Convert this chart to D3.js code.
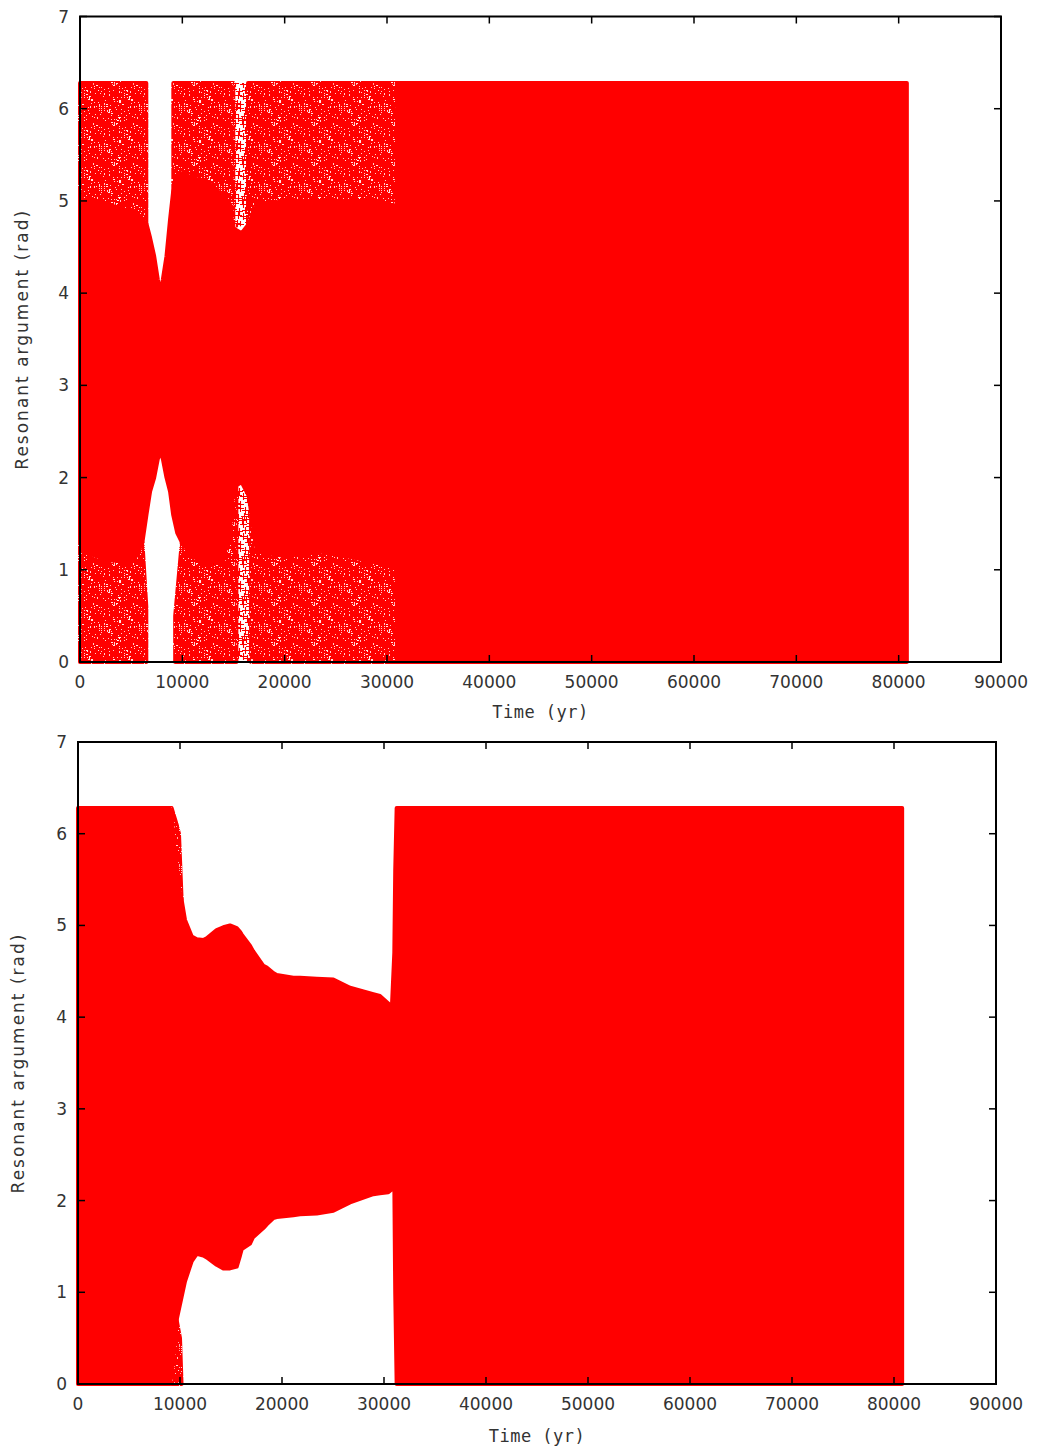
<!DOCTYPE html>
<html>
<head>
<meta charset="utf-8">
<script src="https://cdn.jsdelivr.net/npm/d3@7"></script>
<style>
  body { margin: 0; background: #fff; }
  svg { display: block; }
</style>
</head>
<body>
<svg id="fig" width="1038" height="1447"></svg>
<script>
// Axis ticks shared by both panels
const xTicks = [0, 10000, 20000, 30000, 40000, 50000, 60000, 70000, 80000, 90000];
const yTicks = [0, 1, 2, 3, 4, 5, 6, 7];
const xTitle = "Time (yr)";
const yTitle = "Resonant argument (rad)";

// Upper panel: envelope of the resonant argument, rows are [time, low, high]
// (null rows mark times with no points in that part of the cloud)
// dense core of the point cloud
const coreA = [
  [0, 1.35, 5.1], [300, 1.2, 5.0], [1500, 1.15, 5.0], [3000, 1.1, 4.95],
  [4500, 1.1, 4.9], [5500, 1.15, 4.85], [6100, 1.3, 4.8], [6500, 1.6, 4.75],
  [6850, 1.85, 4.6], [7250, 2.0, 4.4], [7600, 2.2, 4.15], [7850, 2.29, 4.0],
  [8100, 2.2, 4.15], [8450, 2.0, 4.4], [8800, 1.85, 4.8], [9100, 1.6, 5.1],
  [9500, 1.4, 5.25], [9950, 1.3, 5.3], [11000, 1.15, 5.25], [12500, 1.05, 5.2],
  [14000, 1.1, 5.05], [14700, 1.5, 4.85], [15000, 1.9, 4.7], [15800, 1.95, 4.65],
  [16500, 1.8, 4.75], [17000, 1.4, 4.9], [17300, 1.2, 4.95], [20000, 1.15, 5.0],
  [24000, 1.2, 5.0], [28000, 1.1, 5.0], [30500, 1.05, 4.95], [30950, 1.05, 4.95],
  [31000, 0, 6.28], [80800, 0, 6.28]
];
// scattered points above the core
const scatterTopA = [
  [0, 5.1, 6.28], [300, 5.0, 6.28], [1500, 5.0, 6.28], [3000, 4.95, 6.28],
  [4500, 4.9, 6.28], [5500, 4.85, 6.28], [6100, 4.8, 6.28], [6480, 4.75, 6.28],
  [6500, null, null], [9100, null, null],
  [9120, 5.1, 6.28], [9500, 5.25, 6.28], [9950, 5.3, 6.28], [11000, 5.25, 6.28],
  [12500, 5.2, 6.28], [14000, 5.05, 6.28], [14700, 4.85, 6.28], [14980, 4.7, 6.28],
  [15000, null, null], [16400, null, null],
  [16420, 4.75, 6.28], [17000, 4.9, 6.28], [17300, 4.95, 6.28], [20000, 5.0, 6.28],
  [24000, 5.0, 6.28], [28000, 5.0, 6.28], [30500, 4.95, 6.28], [30950, 4.95, 6.28]
];
// scattered points below the core
const scatterBottomA = [
  [0, 0, 1.35], [300, 0, 1.2], [1500, 0, 1.15], [3000, 0, 1.1],
  [4500, 0, 1.1], [5500, 0, 1.15], [6100, 0, 1.3], [6480, 0, 0.6],
  [6500, null, null], [9280, null, null],
  [9300, 0, 0.5], [9950, 0, 1.3], [11000, 0, 1.15], [12500, 0, 1.05],
  [14000, 0, 1.1], [14700, 0, 1.5], [15000, 0, 1.9], [15280, 0, 1.93],
  [15300, null, null], [16700, null, null],
  [16720, 0, 1.75], [17000, 0, 1.4], [17300, 0, 1.2], [20000, 0, 1.15],
  [24000, 0, 1.2], [28000, 0, 1.1], [30500, 0, 1.05], [30950, 0, 1.05]
];
// thinly populated streaks inside the cloud
const thinTopA = [[15000, 4.7, 6.28], [16400, 4.75, 6.28]];
const thinBottomA = [[15300, 0, 1.93], [16700, 0, 1.8]];

// Lower panel: same layout of [time, low, high] rows
const coreB = [
  [0, 0, 6.28], [9000, 0, 6.28], [9180, 0.1, 6.19], [9350, 0.3, 5.95],
  [9670, 0.7, 5.53], [10160, 0.95, 5.28], [10490, 1.12, 5.06], [11150, 1.34, 4.88],
  [11640, 1.42, 4.85], [12290, 1.4, 4.84], [12620, 1.38, 4.86], [13600, 1.3, 4.95],
  [14250, 1.26, 4.98], [14900, 1.26, 5.0], [15560, 1.28, 4.97], [15880, 1.4, 4.93],
  [16050, 1.47, 4.9], [16860, 1.53, 4.78], [17160, 1.6, 4.72], [18170, 1.7, 4.56],
  [18500, 1.74, 4.54], [19150, 1.81, 4.48], [19480, 1.82, 4.46], [21110, 1.84, 4.43],
  [21760, 1.85, 4.43], [23400, 1.86, 4.42], [25030, 1.89, 4.41], [26670, 1.98, 4.32],
  [28950, 2.07, 4.25], [29600, 2.08, 4.23], [30420, 2.09, 4.15], [30750, 2.12, 4.05],
  [31010, 2.2, 4.7], [31100, 1.0, 5.6], [31240, 0, 6.28], [80800, 0, 6.28]
];
const scatterTopB = [
  [8800, 6.28, 6.28], [9000, 6.2, 6.28], [9180, 6.19, 6.28], [9670, 5.53, 6.1],
  [9900, 5.4, 6.0], [10160, 5.28, 5.28]
];
const scatterBottomB = [
  [9180, 0, 0.1], [9350, 0, 0.3], [9670, 0, 0.7], [10000, 0, 0.5], [10150, 0, 0]
];

const RED = "#ff0000";
const svg = d3.select("#fig");
const defs = svg.append("defs");

// Textures of "+" markers for the sparsely populated parts of the cloud.
// Marker centres follow a Halton sequence inside a repeating tile.
function halton(i, b) {
  let f = 1, r = 0;
  while (i > 0) { f /= b; r += f * (i % b); i = Math.floor(i / b); }
  return r;
}
function plusTexture(id, tile, count, start, width) {
  const arm = 3.5;
  let d = "";
  for (let i = start; i < start + count; i++) {
    const cx = Math.floor(halton(i, 2) * tile) + 0.5;
    const cy = Math.floor(halton(i, 3) * tile) + 0.5;
    for (const ox of [-tile, 0, tile]) for (const oy of [-tile, 0, tile]) {
      const px = cx + ox, py = cy + oy;
      if (px < -arm || px > tile + arm || py < -arm || py > tile + arm) continue;
      d += `M${px - arm},${py}h${2 * arm}M${px},${py - arm}v${2 * arm}`;
    }
  }
  defs.append("pattern")
    .attr("id", id)
    .attr("patternUnits", "userSpaceOnUse")
    .attr("width", tile).attr("height", tile)
    .append("path").attr("d", d)
    .attr("stroke", RED).attr("stroke-width", width).attr("fill", "none");
}
plusTexture("plusCloud", 40, 195, 7, 1.2);
plusTexture("plusThin", 40, 55, 401, 1.1);

function drawPanel(box, core, bands) {
  const x = d3.scaleLinear().domain([0, 90000]).range([box.left, box.right]);
  const y = d3.scaleLinear().domain([0, 7]).range([box.bottom, box.top]);
  const g = svg.append("g");

  const band = d3.area()
    .defined(r => r[1] !== null && r[2] !== null)
    .x(r => x(r[0]))
    .y0(r => y(r[1]))
    .y1(r => y(r[2]));

  // thinly populated streaks, then the sparse point clouds
  bands.thin.forEach(rows => {
    g.append("path").datum(rows).attr("d", band).attr("fill", "url(#plusThin)");
  });
  bands.sparse.forEach(rows => {
    g.append("path").datum(rows).attr("d", band)
      .attr("fill", "url(#plusCloud)")
      .attr("stroke", "url(#plusCloud)").attr("stroke-width", 4)
      .attr("stroke-linejoin", "round");
  });
  // dense core of the cloud
  g.append("path").datum(core).attr("d", band)
    .attr("fill", RED).attr("stroke", RED).attr("stroke-width", 4)
    .attr("stroke-linejoin", "round");

  // ticks on all four sides, pointing inward
  const tickLen = 7;
  const tk = g.append("g").attr("stroke", "#000").attr("stroke-width", 1.5);
  xTicks.forEach(t => {
    tk.append("line").attr("x1", x(t)).attr("x2", x(t)).attr("y1", box.bottom).attr("y2", box.bottom - tickLen);
    tk.append("line").attr("x1", x(t)).attr("x2", x(t)).attr("y1", box.top).attr("y2", box.top + tickLen);
  });
  yTicks.forEach(v => {
    tk.append("line").attr("x1", box.left).attr("x2", box.left + tickLen).attr("y1", y(v)).attr("y2", y(v));
    tk.append("line").attr("x1", box.right).attr("x2", box.right - tickLen).attr("y1", y(v)).attr("y2", y(v));
  });

  // frame
  g.append("rect")
    .attr("x", box.left).attr("y", box.top)
    .attr("width", box.right - box.left).attr("height", box.bottom - box.top)
    .attr("fill", "none").attr("stroke", "#000").attr("stroke-width", 2);

  // tick labels
  const lab = g.append("g").attr("font-family", "DejaVu Sans, sans-serif")
    .attr("font-size", 17).attr("fill", "#333");
  xTicks.forEach(t => {
    lab.append("text").attr("x", x(t)).attr("y", box.bottom + 26)
      .attr("text-anchor", "middle").text(d3.format("d")(t));
  });
  yTicks.forEach(v => {
    lab.append("text").attr("x", box.left - 11).attr("y", y(v) + 6)
      .attr("text-anchor", "end").text(v);
  });

  // axis titles
  g.append("text")
    .attr("x", (box.left + box.right) / 2).attr("y", box.bottom + box.xTitleOff)
    .attr("text-anchor", "middle")
    .attr("font-family", "DejaVu Sans Mono, monospace").attr("font-size", 17)
    .attr("letter-spacing", 0.5).attr("fill", "#333")
    .text(xTitle);
  const cy = (box.top + box.bottom) / 2;
  g.append("text")
    .attr("transform", `translate(${box.yTitleX},${cy}) rotate(-90)`)
    .attr("text-anchor", "middle")
    .attr("font-family", "DejaVu Sans, sans-serif").attr("font-size", 17)
    .attr("letter-spacing", 2).attr("fill", "#333")
    .text(yTitle);
}

drawPanel({ left: 80, right: 1001, top: 16.5, bottom: 662, xTitleOff: 56, yTitleX: 28 },
  coreA, { sparse: [scatterTopA, scatterBottomA], thin: [thinTopA, thinBottomA] });
drawPanel({ left: 78, right: 996, top: 742, bottom: 1384, xTitleOff: 58, yTitleX: 24 },
  coreB, { sparse: [scatterTopB, scatterBottomB], thin: [] });
</script>
</body>
</html>
